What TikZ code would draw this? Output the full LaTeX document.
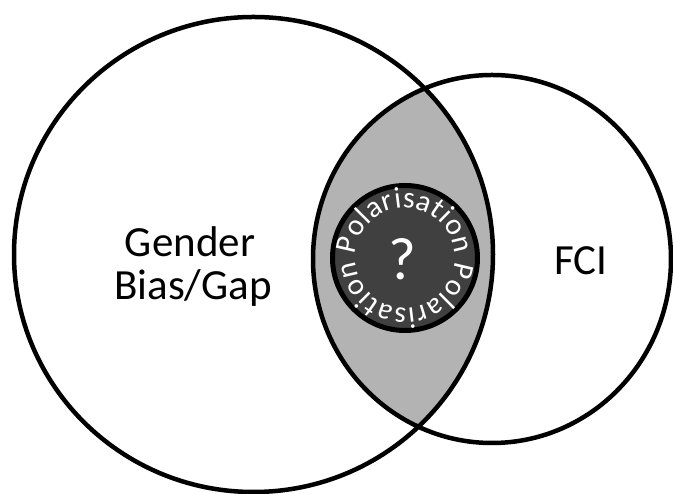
\documentclass[tikz,border=0pt]{standalone}
\usepackage{fontspec}
\setmainfont{Carlito}
\usetikzlibrary{decorations.text}
\definecolor{lensgray}{RGB}{179,179,179}
\definecolor{darkcore}{RGB}{64,64,64}
\tikzset{
  setline/.style={draw=black, line width=4.5pt},
  biglabel/.style={font=\fontsize{43}{43}\selectfont, anchor=base, inner sep=0pt},
}
\begin{document}
\begin{tikzpicture}[x=1pt,y=1pt]
\useasboundingbox (0,0) rectangle (673,494);
\fill[white] (0,0) rectangle (673,494);
\coordinate (L) at (253.5,239.5);
\coordinate (R) at (492,235);
% lens
\begin{scope}
  \clip (L) ellipse [x radius=239.5, y radius=237.5];
  \fill[lensgray] (R) ellipse [x radius=179, y radius=184];
\end{scope}
\draw[setline] (L) ellipse [x radius=239.5, y radius=237.5];
\draw[setline] (R) ellipse [x radius=179, y radius=184];
% core
\node[circle, draw=black, fill=darkcore, line width=5pt, minimum size=145pt, inner sep=0pt] (core) at (405,236) {};
\path[font=\fontsize{30}{33}\selectfont, decorate, decoration={text along path, text color=white, text align={fit to path},
  text={|\fontsize{30}{33}\selectfont|Polarisation Polarisation}}]
  (core.center) ++(176:50) arc[start angle=176, end angle=-176, radius=50];
\node[text=white, font=\fontsize{60}{60}\selectfont, anchor=base, inner sep=0pt] (q) at (402,214) {?};
% labels
\node[biglabel] (gender) at (190,237) {Gender};
\node[biglabel] (bias) at (193,194) {Bias/Gap};
\node[biglabel] (fci) at (581,219) {FCI};
\end{tikzpicture}
\end{document}
